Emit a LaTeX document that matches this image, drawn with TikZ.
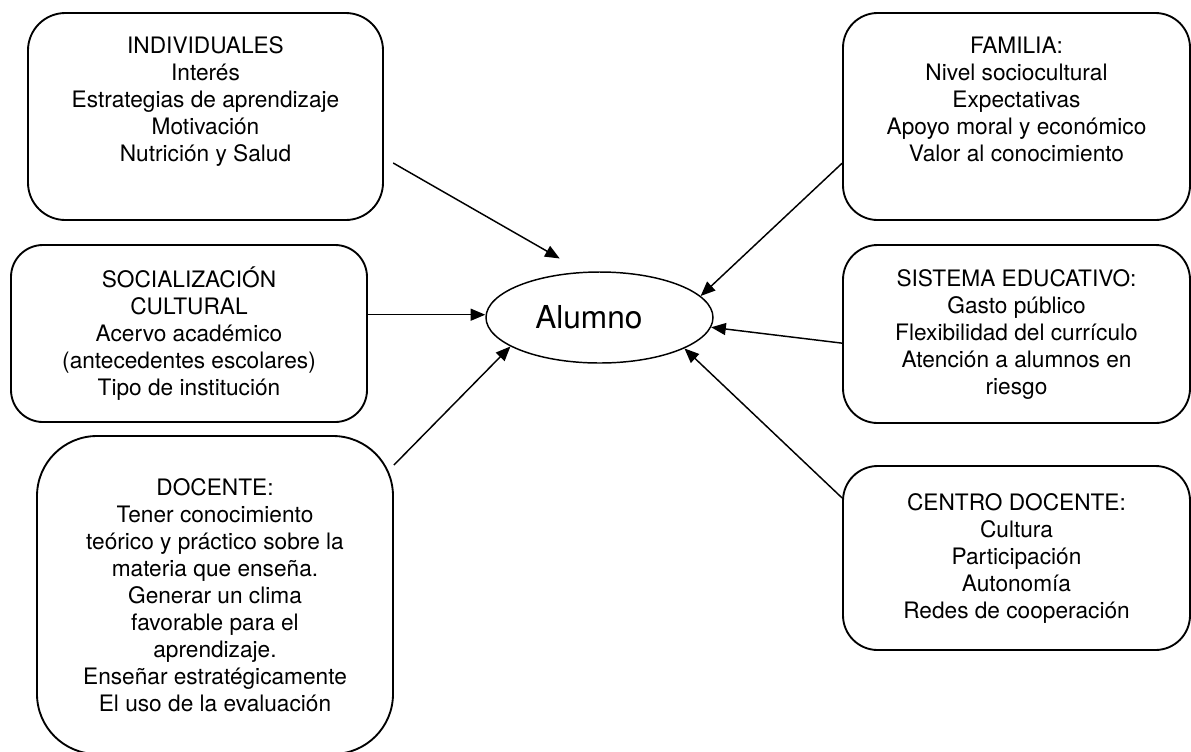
\documentclass[tikz,border=0pt]{standalone}
\usepackage{fontspec}
\setmainfont{TeX Gyre Heros}
\usetikzlibrary{arrows.meta,shapes.geometric}
\tikzstyle{factor}=[draw, line width=1.4pt, rounded corners=26pt, align=center, inner sep=0pt,
  font={\fontsize{17pt}{20.25pt}\selectfont}]
\tikzstyle{student}=[draw, ellipse, line width=1.1pt, inner sep=0pt,
  minimum width=170.25pt, minimum height=68.25pt, font={\fontsize{23.7pt}{28pt}\selectfont}]
\tikzstyle{influence}=[-{Triangle[length=11pt,width=9pt]}, line width=1.1pt]

\begin{document}
\begin{tikzpicture}[x=0.75pt,y=-0.75pt]
  \useasboundingbox (0,0) rectangle (1191,751);

  \draw (599.5,317.5) node[student] (alumno) {Alumno\hspace*{16pt}};

  %% left side
  \draw (205.5,116.5) node[factor,rounded corners=28pt,minimum width=266.25pt,minimum height=155.25pt] (indiv)
    {INDIVIDUALES\\Interés\\Estrategias de aprendizaje\\Motivación\\Nutrición y Salud\\\strut};
  \draw (189,333.5) node[factor,rounded corners=24pt,minimum width=267pt,minimum height=132.75pt] (social)
    {SOCIALIZACIÓN\\CULTURAL\\Acervo académico\\(antecedentes escolares)\\Tipo de institución};
  \draw (215,595) node[factor,rounded corners=45pt,minimum width=267pt,minimum height=238.5pt] (docente)
    {DOCENTE:\\Tener conocimiento\\teórico y práctico sobre la\\materia que enseña.\\Generar un clima\\favorable para el\\aprendizaje.\\Enseñar estratégicamente\\El uso de la evaluación};

  %% right side
  \draw (1016.5,116.5) node[factor,minimum width=260.25pt,minimum height=155.25pt] (familia)
    {FAMILIA:\\Nivel sociocultural\\Expectativas\\Apoyo moral y económico\\Valor al conocimiento\\\strut};
  \draw (1016.5,334) node[factor,minimum width=260.25pt,minimum height=133.5pt] (sistema)
    {SISTEMA EDUCATIVO:\\Gasto público\\Flexibilidad del currículo\\Atención a alumnos en\\riesgo};
  \draw (1016.5,558) node[factor,minimum width=260.25pt,minimum height=138pt] (centro)
    {CENTRO DOCENTE:\\Cultura\\Participación\\Autonomía\\Redes de cooperación};

  %% arrows into the student
  \draw[influence, shorten <=8pt, shorten >=20pt] (indiv.-13) -- (alumno.110);
  \draw[influence] (social.6) -- (social.6 -| alumno.west);
  \draw[influence] (docente.36) -- (alumno.198);
  \draw[influence] (familia.195) -- (alumno.12);
  \draw[influence] (sistema.183) -- (alumno.-5);
  \draw[influence] (centro.161) -- (alumno.-20);
\end{tikzpicture}
\end{document}
